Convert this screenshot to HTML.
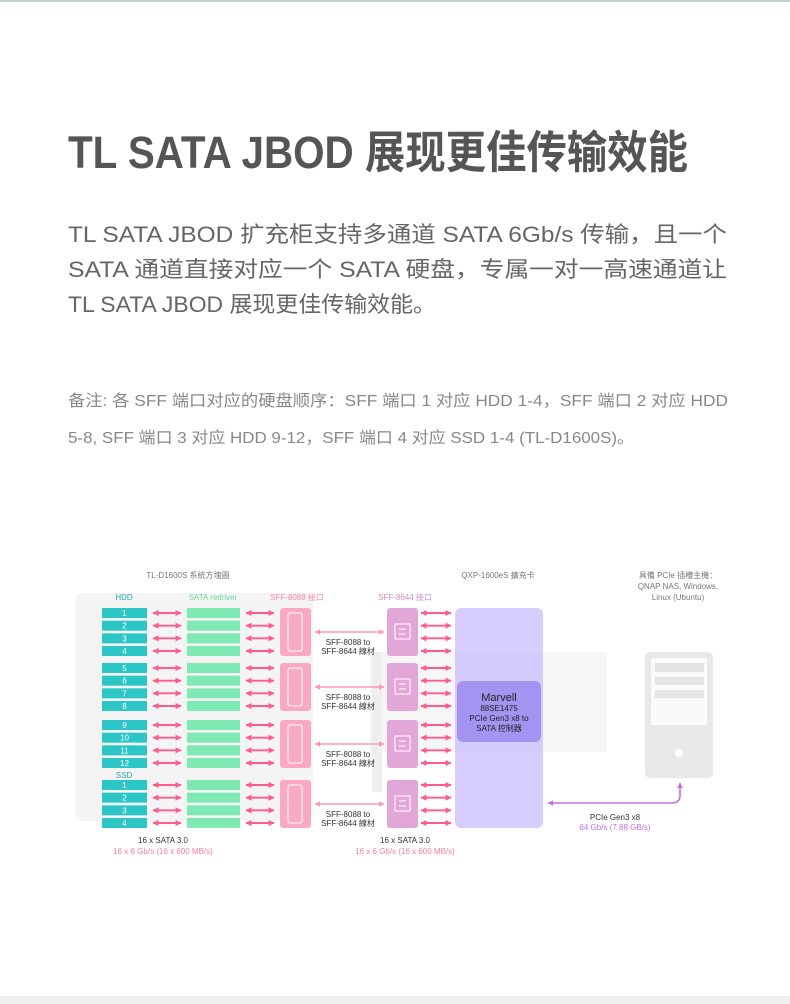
<!DOCTYPE html>
<html><head><meta charset="utf-8"><style>
html,body{margin:0;padding:0;background:#fff;}
svg{display:block}
</style></head><body>
<svg width="790" height="1004" viewBox="0 0 790 1004" xmlns="http://www.w3.org/2000/svg" font-family="Liberation Sans, Noto Sans CJK SC, sans-serif">
<defs>
<marker id="ap" viewBox="0 0 10 10" refX="9" refY="5" markerWidth="3.2" markerHeight="3.2" orient="auto-start-reverse"><path d="M0,0L10,5L0,10z" fill="#ff5c8d"/></marker>
<marker id="al" viewBox="0 0 10 10" refX="9" refY="5" markerWidth="3.5" markerHeight="3.5" orient="auto-start-reverse"><path d="M0,0L10,5L0,10z" fill="#fb9ab8"/></marker>
<marker id="au" viewBox="0 0 10 10" refX="9" refY="5" markerWidth="3.5" markerHeight="3.5" orient="auto-start-reverse"><path d="M0,0L10,5L0,10z" fill="#c46df0"/></marker>
</defs>
<rect x="0" y="0" width="790" height="2" fill="#bcd5d8"/>
<rect x="0" y="996" width="790" height="8" fill="#efefef"/>

<text x="68" y="168" font-size="45" fill="#555" font-weight="bold" textLength="620" lengthAdjust="spacingAndGlyphs">TL SATA JBOD 展现更佳传输效能</text>
<g font-size="22" fill="#666">
<text x="68" y="242" textLength="659" lengthAdjust="spacingAndGlyphs">TL SATA JBOD 扩充柜支持多通道 SATA 6Gb/s 传输，且一个</text>
<text x="68" y="277" textLength="659" lengthAdjust="spacingAndGlyphs">SATA 通道直接对应一个 SATA 硬盘，专属一对一高速通道让</text>
<text x="68" y="312" textLength="368" lengthAdjust="spacingAndGlyphs">TL SATA JBOD 展现更佳传输效能。</text>
</g>
<g font-size="16" fill="#888">
<text x="68" y="406" textLength="660" lengthAdjust="spacingAndGlyphs">备注: 各 SFF 端口对应的硬盘顺序：SFF 端口 1 对应 HDD 1-4，SFF 端口 2 对应 HDD</text>
<text x="68" y="443" textLength="566" lengthAdjust="spacingAndGlyphs">5-8, SFF 端口 3 对应 HDD 9-12，SFF 端口 4 对应 SSD 1-4 (TL-D1600S)。</text>
</g>

<rect x="75" y="593" width="238" height="228" rx="8" fill="#f4f4f4"/>
<rect x="370" y="652" width="237" height="100" fill="#f6f6f6"/>
<rect x="372" y="652" width="10" height="140" fill="#eeeeee"/>

<g font-size="8" text-anchor="middle">
<text x="188" y="578" fill="#777">TL-D1600S 系統方塊圖</text>
<text x="124" y="600" fill="#2aa8a8">HDD</text>
<text x="213" y="600" fill="#6fd8a0">SATA redriver</text>
<text x="297" y="600" fill="#f88aaa">SFF-8088 接口</text>
<text x="405" y="600" fill="#d58ac8">SFF-8644 接口</text>
<text x="498" y="578" fill="#777">QXP-1600eS 擴充卡</text>
<text x="678" y="578" fill="#777">具備 PCIe 插槽主機：</text>
<text x="678" y="589" fill="#777">QNAP NAS, Windows,</text>
<text x="678" y="600" fill="#777">Linux (Ubuntu)</text>
<text x="124" y="778" fill="#2aa8a8">SSD</text>
<text x="163" y="843" fill="#333">16 x SATA 3.0</text>
<text x="163" y="854" fill="#f47fa5">16 x 6 Gb/s (16 x 600 MB/s)</text>
<text x="405" y="843" fill="#333">16 x SATA 3.0</text>
<text x="405" y="854" fill="#f47fa5">16 x 6 Gb/s (16 x 600 MB/s)</text>
<text x="615" y="820" fill="#333">PCIe Gen3 x8</text>
<text x="615" y="830" fill="#c46df0">64 Gb/s (7.88 GB/s)</text>
</g>

<rect x="455" y="608" width="88" height="220" rx="6" fill="#c9bcff" fill-opacity="0.75"/>
<rect x="457" y="681" width="84" height="61" rx="6" fill="#a593f2"/>
<g text-anchor="middle" fill="#222">
<text x="499" y="701" font-size="11">Marvell</text>
<text x="499" y="711" font-size="8">88SE1475</text>
<text x="499" y="721" font-size="8">PCIe Gen3 x8 to</text>
<text x="499" y="731" font-size="8">SATA 控制器</text>
</g>

<rect x="645" y="652" width="68" height="126" rx="5" fill="#e8e8e8"/>
<rect x="651" y="658" width="56" height="67" rx="2" fill="#fafafa"/>
<rect x="655" y="663" width="49" height="9" fill="#e4e4e4"/>
<rect x="655" y="677" width="49" height="8" fill="#e4e4e4"/>
<rect x="655" y="690" width="49" height="8" fill="#e4e4e4"/>
<circle cx="679" cy="753" r="4" fill="#fff"/>
<path d="M548,803 L672,803 Q680,803 680,795 L680,783" stroke="#c46df0" stroke-width="1.6" fill="none" marker-start="url(#au)" marker-end="url(#au)"/>

<g font-size="8" text-anchor="middle" fill="#333">
<text x="348" y="645">SFF-8088 to</text><text x="348" y="654">SFF-8644 線材</text>
<text x="348" y="700">SFF-8088 to</text><text x="348" y="709">SFF-8644 線材</text>
<text x="348" y="757">SFF-8088 to</text><text x="348" y="766">SFF-8644 線材</text>
<text x="348" y="817">SFF-8088 to</text><text x="348" y="826">SFF-8644 線材</text>
</g>
<g id="g"></g>
<script>
(function(){
var ns="http://www.w3.org/2000/svg",g=document.getElementById("g");
function el(t,a,txt){var e=document.createElementNS(ns,t);for(var k in a)e.setAttribute(k,a[k]);if(txt)e.textContent=txt;g.appendChild(e);return e;}
var starts=[613,668,725,785];
starts.forEach(function(s,gi){
 var top=s-5,bot=s+3*12.67+5;
 el("rect",{x:280,y:top,width:31,height:bot-top,rx:3,fill:"#f9a9c1"});
 el("rect",{x:288,y:top+5,width:14,height:bot-top-10,rx:2,fill:"none",stroke:"#fff","stroke-width":1});
 el("rect",{x:387,y:top,width:31,height:bot-top,rx:3,fill:"#e2a7d6"});
 var cy=(top+bot)/2;
 el("rect",{x:395,y:cy-8,width:15,height:15,fill:"none",stroke:"#fff","stroke-width":1});
 el("line",{x1:399,y1:cy-3,x2:406,y2:cy-3,stroke:"#fff","stroke-width":1});
 el("line",{x1:399,y1:cy+2,x2:406,y2:cy+2,stroke:"#fff","stroke-width":1});
 el("line",{x1:315,y1:top+24,x2:384,y2:top+24,stroke:"#fb9ab8","stroke-width":1.6,"marker-start":"url(#al)","marker-end":"url(#al)"});
 for(var i=0;i<4;i++){
  var y=s+i*12.67;
  el("rect",{x:102,y:y-5,width:45,height:10,fill:"#2cc6c6"});
  el("text",{x:124.5,y:y+3,"font-size":8,"text-anchor":"middle",fill:"#fff"},String(gi<3?gi*4+i+1:i+1));
  el("rect",{x:187,y:y-5,width:53,height:10,fill:"#7ee9b2"});
  [[153,181],[246,274],[421,451]].forEach(function(p){
   el("line",{x1:p[0],y1:y,x2:p[1],y2:y,stroke:"#ff5c8d","stroke-width":1.9,"marker-start":"url(#ap)","marker-end":"url(#ap)"});
  });
 }
});
})();
</script>
</svg>
</body></html>
